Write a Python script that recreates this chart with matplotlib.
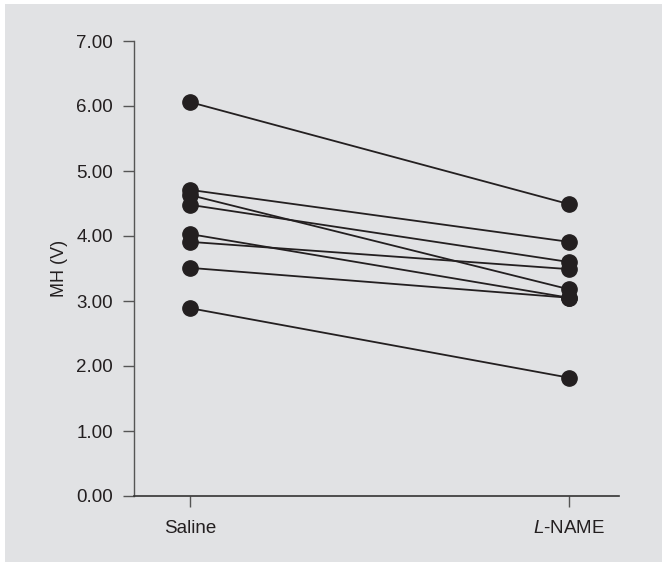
import matplotlib
matplotlib.use("Agg")
import matplotlib.pyplot as plt
from matplotlib.patches import Rectangle

# Paired values (one line per subject)
groups = ["Saline", "$\\it{L}$-NAME"]
saline = [6.06, 4.71, 4.63, 4.48, 4.03, 3.91, 3.51, 2.89]
l_name = [4.49, 3.91, 3.18, 3.60, 3.05, 3.49, 3.05, 1.82]
y_ticks = [0, 1, 2, 3, 4, 5, 6, 7]

plt.rcParams['font.family'] = ['Liberation Sans', 'DejaVu Sans']
plt.rcParams['mathtext.fontset'] = 'custom'
plt.rcParams['mathtext.it'] = 'Liberation Sans:italic'
plt.rcParams['mathtext.rm'] = 'Liberation Sans'

bg = '#e1e2e4'
ink = '#231f20'

fig = plt.figure(figsize=(6.62, 5.62), dpi=100)
fig.patch.set_facecolor('white')
fig.add_artist(Rectangle((5 / 662, 0), 657 / 662, 558 / 562,
                         transform=fig.transFigure, facecolor=bg,
                         edgecolor='none', zorder=-10))

W, H = 662, 562
ax = fig.add_axes([134 / W, (H - 496) / H, (619 - 134) / W, (496 - 41) / H])
ax.set_facecolor('none')
ax.set_zorder(5)

for a, b in zip(saline, l_name):
    ax.plot([0, 1], [a, b], color=ink, lw=1.3, marker='o', ms=11,
            markerfacecolor=ink, markeredgecolor=ink, clip_on=False, zorder=3)

ax.set_xlim(-56 / 379, 429 / 379)
ax.set_ylim(0, 7)
ax.set_xticks([0, 1])
ax.set_xticklabels(groups, fontsize=13.5, color=ink)
ax.set_yticks(y_ticks)
ax.set_yticklabels([f"{v:.2f}" for v in y_ticks], fontsize=13.5, color=ink)
ax.set_ylabel('MH (V)', fontsize=13, color=ink, labelpad=6)

for s in ['top', 'right']:
    ax.spines[s].set_visible(False)
ax.spines['left'].set_color('#555555')
ax.spines['bottom'].set_color('#333333')
ax.spines['left'].set_linewidth(1.0)
ax.spines['bottom'].set_linewidth(1.2)
ax.tick_params(axis='y', direction='out', length=8, width=1, color='#555555', pad=7)
ax.tick_params(axis='x', direction='out', length=8, width=1, color='#555555', pad=9)

fig.savefig('out.png', dpi=100, facecolor=fig.get_facecolor())
